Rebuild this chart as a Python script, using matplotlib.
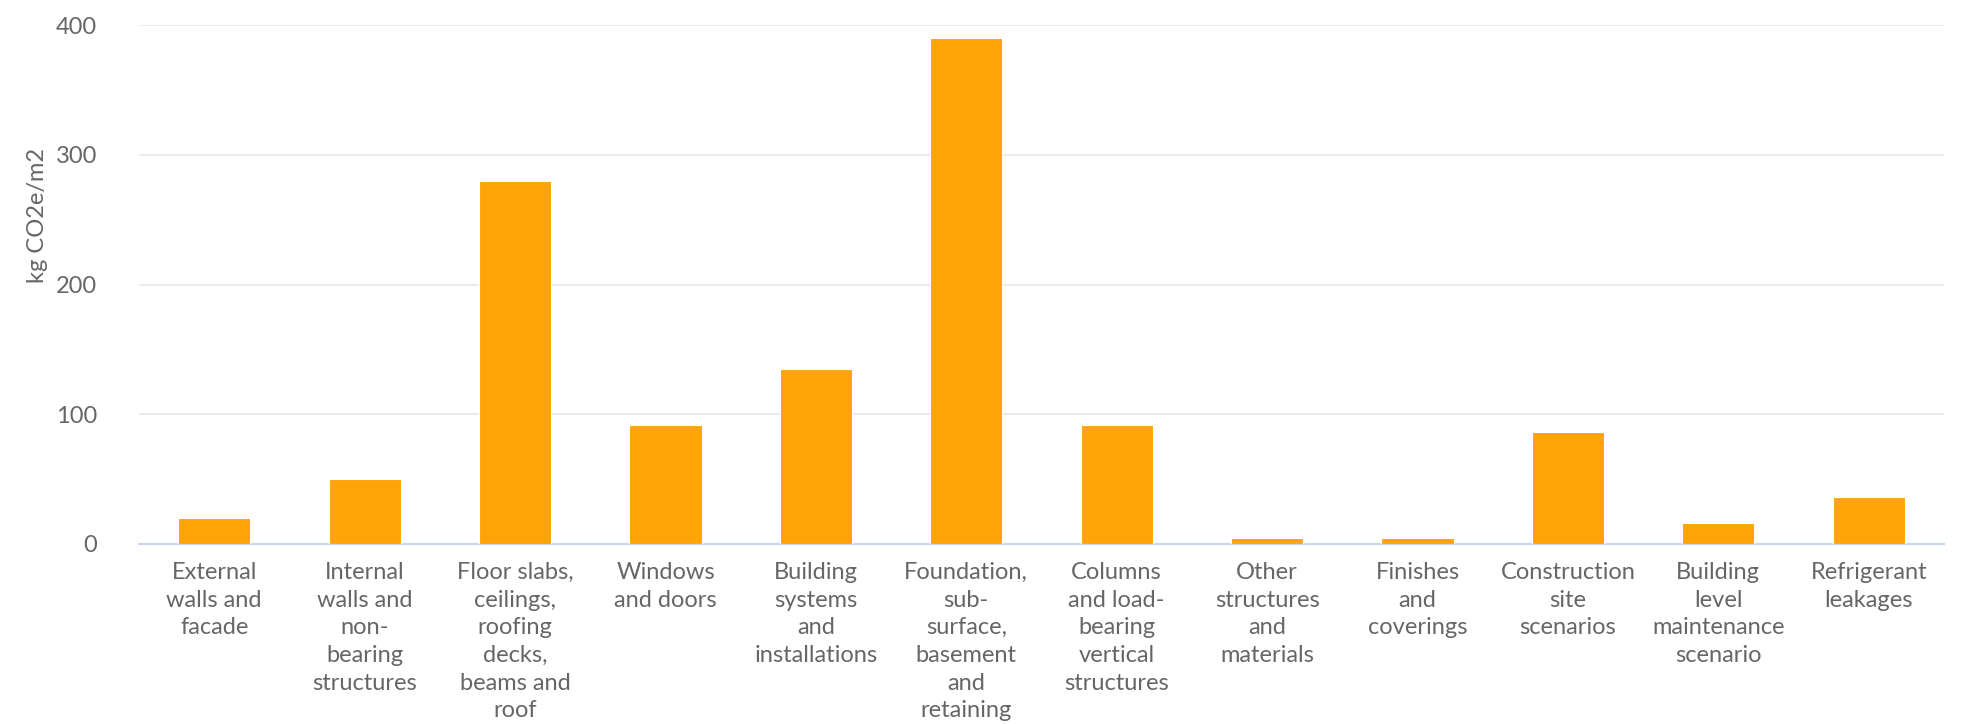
import matplotlib.pyplot as plt

# ====================================

categories = [
    "External\nwalls and\nfacade",
    "Internal\nwalls and\nnon-\nbearing\nstructures",
    "Floor slabs,\nceilings,\nroofing\ndecks,\nbeams and\nroof",
    "Windows\nand doors",
    "Building\nsystems\nand\ninstallations",
    "Foundation,\nsub-\nsurface,\nbasement\nand\nretaining",
    "Columns\nand load-\nbearing\nvertical\nstructures",
    "Other\nstructures\nand\nmaterials",
    "Finishes\nand\ncoverings",
    "Construction\nsite\nscenarios",
    "Building\nlevel\nmaintenance\nscenario",
    "Refrigerant\nleakages",
]

values = [20, 50, 280, 92, 135, 390, 92, 5, 5, 86, 16, 36]

y_ticks = [0, 100, 200, 300, 400]

# ====================================

plt.rcParams["font.family"] = ["Lato", "DejaVu Sans"]

fig = plt.figure(figsize=(19.83, 7.24), dpi=100)
ax = fig.add_axes([139/1983, 1-544/724, (1944-139)/1983, (544-25)/724])

x = range(len(values))
ax.bar(x, values, width=0.48, color="#FFA408", edgecolor="white", linewidth=0.8, zorder=3)

ax.set_xlim(-0.5, len(values)-0.5)
ax.set_ylim(0, 400)
ax.set_yticks(y_ticks)
ax.set_xticks(list(x))
ax.set_xticklabels(categories, fontsize=17, color="#666666", linespacing=1.39)

for lbl in ax.get_yticklabels():
    lbl.set_fontsize(17)
    lbl.set_color("#666666")

ax.tick_params(axis="y", length=0, pad=30)
ax.tick_params(axis="x", length=0, pad=13)

ax.grid(axis="y", color="#e6e6e6", linewidth=1.2, zorder=0)
for s in ["top", "right", "left"]:
    ax.spines[s].set_visible(False)
ax.spines["bottom"].set_color("#ccd6eb")
ax.spines["bottom"].set_linewidth(1.5)

fig.text(38/1983, 1-215/724, "kg CO2e/m2", rotation=90, fontsize=17,
         color="#666666", ha="center", va="center")

plt.savefig("out.png", dpi=100)
